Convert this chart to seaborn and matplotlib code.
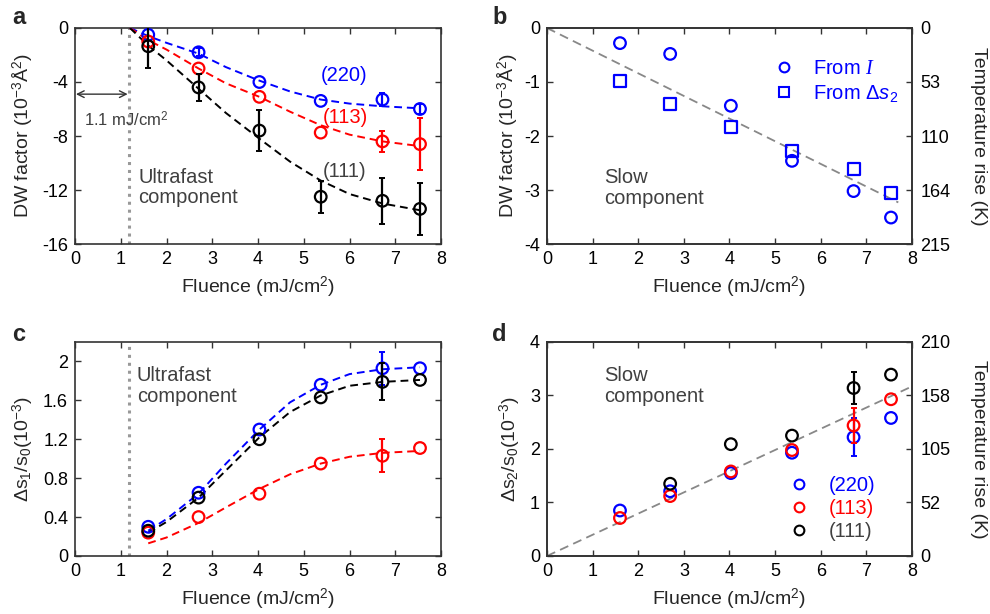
import numpy as np
import pandas as pd
import seaborn as sns
import matplotlib.pyplot as plt
from matplotlib.lines import Line2D

# ---- data ----
fluence = [1.6, 2.7, 4.03, 5.37, 6.72, 7.54]

# a: ultrafast DW factor (10^-3 A^2)
dw_fast_220 = [-0.5, -1.8, -4.0, -5.4, -5.3, -6.0]
dw_fast_220_err = [0, 0.3, 0, 0, 0.5, 0.4]
dw_fast_113 = [-1.0, -3.0, -5.1, -7.75, -8.4, -8.6]
dw_fast_113_err = [0, 0, 0, 0, 0.8, 1.9]
dw_fast_111 = [-1.35, -4.4, -7.6, -12.5, -12.8, -13.4]
dw_fast_111_err = [1.6, 1.0, 1.5, 1.2, 1.7, 1.9]

fit_x_a = [1.2, 1.6, 2.0, 2.7, 3.3, 4.03, 4.7, 5.37, 6.0, 6.72, 7.54]
fit_a_220 = [0, -0.6, -1.1, -1.9, -2.9, -3.9, -4.7, -5.3, -5.6, -5.8, -5.95]
fit_a_113 = [0, -0.9, -1.6, -3.0, -4.1, -5.1, -6.2, -7.2, -7.9, -8.4, -8.75]
fit_a_111 = [0, -1.3, -2.4, -4.5, -6.3, -8.2, -9.9, -11.3, -12.3, -13.0, -13.5]

# b: slow DW factor
dw_slow_I = [-0.28, -0.48, -1.44, -2.46, -3.02, -3.51]
dw_slow_s2 = [-0.98, -1.41, -1.84, -2.27, -2.62, -3.05]
line_x_b = [0.0, 7.7]
line_y_b = [0.0, -3.23]
temp_b_labels = ["0", "53", "110", "164", "215"]

# c: ultrafast delta s1 / s0 (10^-3)
ds1_220 = [0.30, 0.65, 1.30, 1.76, 1.93, 1.93]
ds1_220_err = [0, 0, 0, 0, 0.17, 0]
ds1_113 = [0.24, 0.40, 0.64, 0.95, 1.03, 1.11]
ds1_113_err = [0, 0, 0, 0, 0.17, 0]
ds1_111 = [0.26, 0.60, 1.20, 1.63, 1.79, 1.81]
ds1_111_err = [0, 0, 0, 0, 0.19, 0]

fit_x_c = [1.6, 2.0, 2.7, 3.3, 4.03, 4.7, 5.37, 6.0, 6.72, 7.54]
fit_c_220 = [0.26, 0.38, 0.64, 0.95, 1.30, 1.58, 1.76, 1.87, 1.92, 1.94]
fit_c_113 = [0.13, 0.19, 0.34, 0.50, 0.69, 0.84, 0.95, 1.02, 1.06, 1.08]
fit_c_111 = [0.24, 0.35, 0.60, 0.88, 1.22, 1.48, 1.65, 1.75, 1.79, 1.81]

# d: slow delta s2 / s0 (10^-3)
ds2_220 = [0.85, 1.21, 1.55, 1.93, 2.22, 2.58]
ds2_220_err = [0, 0, 0, 0, 0.36, 0]
ds2_113 = [0.71, 1.12, 1.58, 1.98, 2.44, 2.93]
ds2_113_err = [0, 0, 0, 0, 0.32, 0]
fluence_111_d = [2.7, 4.03, 5.37, 6.72, 7.54]
ds2_111 = [1.35, 2.09, 2.25, 3.14, 3.39]
ds2_111_err = [0, 0, 0, 0.30, 0]
line_x_d = [0.0, 8.0]
line_y_d = [0.0, 3.17]
temp_d_labels = ["0", "52", "105", "158", "210"]

BLUE = "#0000ff"
RED = "#ff0000"
BLACK = "#000000"
GRAY_TXT = "#404040"
DASH = (0, (4, 2.5))

sns.set_theme(style="ticks")
plt.rcParams["font.family"] = ["Liberation Sans", "DejaVu Sans"]
plt.rcParams["mathtext.fontset"] = "custom"
plt.rcParams["mathtext.rm"] = "Liberation Sans"
plt.rcParams["mathtext.it"] = "Liberation Serif:italic"
plt.rcParams["mathtext.sf"] = "Liberation Sans:italic"
plt.rcParams["axes.edgecolor"] = "#333333"
plt.rcParams["axes.linewidth"] = 1.2

FS = 13     # tick labels
FL = 14     # axis labels
FT = 14.5   # annotations


def style_axis(ax, right=True):
    ax.tick_params(direction="in", top=True, right=right, length=4, width=1,
                   colors="#333333", labelcolor="black", labelsize=FS, pad=5)
    ax.set_xlim(0, 8)
    ax.set_xticks(range(0, 9))
    ax.set_xlabel("Fluence (mJ/cm$^2$)", fontsize=FL, labelpad=5)


def points(ax, x, y, color, err=None, s=70):
    sns.scatterplot(x=x, y=y, ax=ax, marker="o", s=s, color=color,
                    facecolor="none", edgecolor=color, linewidth=1.6, zorder=4)
    if err is not None:
        xe = [xi for xi, e in zip(x, err) if e > 0]
        ye = [yi for yi, e in zip(y, err) if e > 0]
        ee = [e for e in err if e > 0]
        ax.errorbar(xe, ye, yerr=ee, fmt="none", ecolor=color, elinewidth=1.6,
                    capsize=2.5, capthick=1.4, zorder=4)


def fit(ax, x, y, color, lw=1.4):
    sns.lineplot(x=x, y=y, ax=ax, color=color, lw=lw, linestyle=DASH, zorder=3)


fig = plt.figure(figsize=(9.9, 6.14), dpi=100)
ax_a = fig.add_axes([0.0758, 0.6026, 0.3697, 0.3518])
ax_b = fig.add_axes([0.5525, 0.6026, 0.3687, 0.3518])
ax_c = fig.add_axes([0.0758, 0.0945, 0.3697, 0.3485])
ax_d = fig.add_axes([0.5525, 0.0945, 0.3687, 0.3485])

# ---- a ----
fit(ax_a, fit_x_a, fit_a_220, BLUE)
fit(ax_a, fit_x_a, fit_a_113, RED)
fit(ax_a, fit_x_a, fit_a_111, BLACK)
points(ax_a, fluence, dw_fast_220, BLUE, dw_fast_220_err)
points(ax_a, fluence, dw_fast_113, RED, dw_fast_113_err)
points(ax_a, fluence, dw_fast_111, BLACK, dw_fast_111_err)
ax_a.axvline(1.17, color="#999999", lw=2.2, ls=(0, (1, 1.6)), zorder=1)
ax_a.annotate("", xy=(0.02, -4.9), xytext=(1.15, -4.9),
              arrowprops=dict(arrowstyle="<->", color="#333333", lw=1, shrinkA=0, shrinkB=0))
ax_a.text(0.2, -6.8, "1.1 mJ/cm$^2$", color=GRAY_TXT, fontsize=12, va="center")
ax_a.text(1.38, -11.8, "Ultrafast\ncomponent", color=GRAY_TXT, fontsize=FT,
          va="center", linespacing=1.1)
ax_a.text(5.36, -3.5, "(220)", color=BLUE, fontsize=FT, va="center")
ax_a.text(5.42, -6.6, "(113)", color=RED, fontsize=FT, va="center")
ax_a.text(5.42, -10.6, "(111)", color=GRAY_TXT, fontsize=FT, va="center")
style_axis(ax_a)
ax_a.set_ylim(-16, 0)
ax_a.set_yticks([0, -4, -8, -12, -16])
ax_a.set_yticklabels(["0", "-4", "-8", "-12", "-16"])
ax_a.set_ylabel("DW factor (10$^{-3}$Å$^2$)", fontsize=FL, labelpad=5)

# ---- b ----
sns.lineplot(x=line_x_b, y=line_y_b, ax=ax_b, color="#888888", lw=1.3,
             linestyle=(0, (5, 3)), zorder=2)
points(ax_b, fluence, dw_slow_I, BLUE)
sns.scatterplot(x=fluence, y=dw_slow_s2, ax=ax_b, marker="s", s=75, color=BLUE,
                facecolor="none", edgecolor=BLUE, linewidth=1.6, zorder=4)
ax_b.text(1.25, -2.96, "Slow\ncomponent", color=GRAY_TXT, fontsize=FT,
          va="center", linespacing=1.1)
handles_b = [
    Line2D([], [], marker="o", ls="none", mfc="none", mec=BLUE, mew=1.5, ms=7),
    Line2D([], [], marker="s", ls="none", mfc="none", mec=BLUE, mew=1.5, ms=6.5),
]
leg = ax_b.legend(handles_b, ["From $I$", r"From Δ$\mathsf{s}_2$"], loc="upper right",
                  frameon=False, fontsize=FT, handletextpad=0.4, borderaxespad=0.3,
                  labelspacing=0.25, bbox_to_anchor=(1.0, 0.92))
for t in leg.get_texts():
    t.set_color(BLUE)
style_axis(ax_b, right=False)
ax_b.set_ylim(-4, 0)
ax_b.set_yticks([0, -1, -2, -3, -4])
ax_b.set_yticklabels(["0", "-1", "-2", "-3", "-4"])
ax_b.set_ylabel("DW factor (10$^{-3}$Å$^2$)", fontsize=FL, labelpad=3)
tb = ax_b.twinx()
tb.set_ylim(-4, 0)
tb.set_yticks([0, -1, -2, -3, -4])
tb.set_yticklabels(temp_b_labels)
tb.tick_params(direction="in", length=4, width=1, colors="#333333",
               labelcolor="black", labelsize=FS, pad=6)
tb.set_ylabel("Temperature rise (K)", rotation=270, fontsize=FL, labelpad=26)

# ---- c ----
fit(ax_c, fit_x_c, fit_c_220, BLUE)
fit(ax_c, fit_x_c, fit_c_113, RED)
fit(ax_c, fit_x_c, fit_c_111, BLACK)
points(ax_c, fluence, ds1_220, BLUE, ds1_220_err)
points(ax_c, fluence, ds1_113, RED, ds1_113_err)
points(ax_c, fluence, ds1_111, BLACK, ds1_111_err)
ax_c.axvline(1.17, color="#999999", lw=2.2, ls=(0, (1, 1.6)), zorder=1)
ax_c.text(1.35, 1.75, "Ultrafast\ncomponent", color=GRAY_TXT, fontsize=FT,
          va="center", linespacing=1.1)
style_axis(ax_c)
ax_c.set_ylim(0, 2.2)
ax_c.set_yticks([0, 0.4, 0.8, 1.2, 1.6, 2.0])
ax_c.set_yticklabels(["0", "0.4", "0.8", "1.2", "1.6", "2"])
ax_c.set_ylabel("Δs$_1$/s$_0$(10$^{-3}$)", fontsize=FL, labelpad=5)

# ---- d ----
sns.lineplot(x=line_x_d, y=line_y_d, ax=ax_d, color="#888888", lw=1.3,
             linestyle=(0, (5, 3)), zorder=2)
points(ax_d, fluence, ds2_220, BLUE, ds2_220_err)
points(ax_d, fluence, ds2_113, RED, ds2_113_err)
points(ax_d, fluence_111_d, ds2_111, BLACK, ds2_111_err)
ax_d.text(1.25, 3.18, "Slow\ncomponent", color=GRAY_TXT, fontsize=FT,
          va="center", linespacing=1.1)
handles_d = [Line2D([], [], marker="o", ls="none", mfc="none", mec=c, mew=1.5, ms=7)
             for c in (BLUE, RED, BLACK)]
leg = ax_d.legend(handles_d, ["(220)", "(113)", "(111)"], loc="lower right",
                  frameon=False, fontsize=FT, handletextpad=0.5, labelspacing=0.2,
                  bbox_to_anchor=(0.95, -0.015))
for t, c in zip(leg.get_texts(), (BLUE, RED, GRAY_TXT)):
    t.set_color(c)
style_axis(ax_d, right=False)
ax_d.set_ylim(0, 4)
ax_d.set_yticks([0, 1, 2, 3, 4])
ax_d.set_ylabel("Δs$_2$/s$_0$(10$^{-3}$)", fontsize=FL, labelpad=5)
td = ax_d.twinx()
td.set_ylim(0, 4)
td.set_yticks([0, 1, 2, 3, 4])
td.set_yticklabels(temp_d_labels)
td.tick_params(direction="in", length=4, width=1, colors="#333333",
               labelcolor="black", labelsize=FS, pad=6)
td.set_ylabel("Temperature rise (K)", rotation=270, fontsize=FL, labelpad=26)

for lab, (x, y) in zip("abcd", [(0.012, 0.952), (0.497, 0.952), (0.012, 0.437), (0.497, 0.437)]):
    fig.text(x, y, lab, fontsize=17, fontweight="bold", va="bottom")

fig.savefig("out.png", dpi=100)
